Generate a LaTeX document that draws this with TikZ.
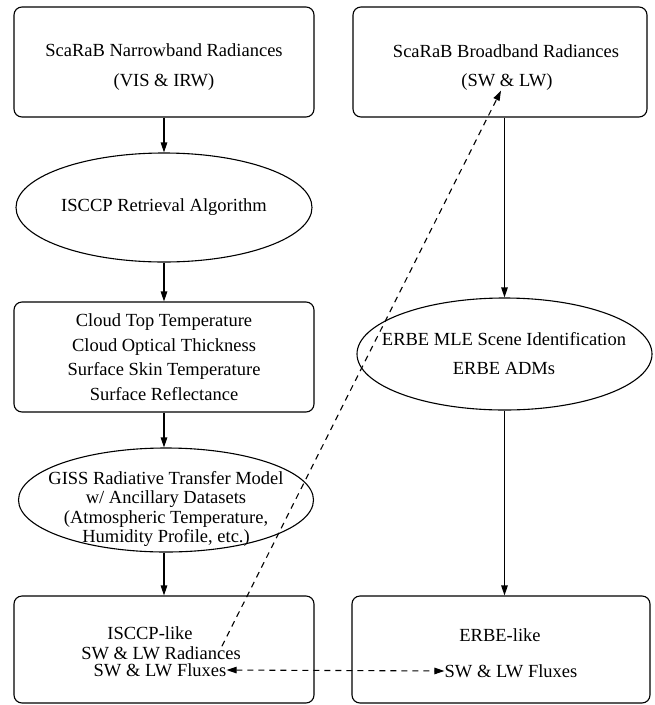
\documentclass[tikz,border=0pt]{standalone}
\usepackage{fontspec}
\setmainfont{Liberation Serif}
\usetikzlibrary{arrows.meta,shapes.geometric}

\begin{document}
\begin{tikzpicture}[x=1pt,y=-1pt,
		every node/.style = {font=\fontsize{18.5}{19.5}\selectfont},
		box/.style = {draw, rounded corners=8pt, line width=1.1pt, minimum width=300pt, minimum height=110pt, align=center},
		oval/.style = {draw, ellipse, line width=1.1pt, minimum width=296pt, inner sep=0pt, align=center},
		txt/.style = {inner sep=0pt, align=center},
		flow/.style = {line width=1.1pt, -{Triangle[length=10pt,width=6.5pt]}},
		link/.style = {line width=1.1pt, dash pattern=on 6pt off 5pt}]
	\useasboundingbox (0,0) rectangle (655,705);

	% left column: narrowband radiances down to ISCCP-like fluxes
	\node[box] (nb) at (164,62) {};
	\node[txt] (nbname) at (164,50) {ScaRaB Narrowband Radiances};
	\node[txt] (nbband) at (164,82) {(VIS \& IRW)};
	\node[oval, minimum height=109pt] (isccp) at (164,207.5) {ISCCP Retrieval Algorithm};
	\node[box] (cloud) at (164,357) {Cloud Top Temperature\\[5pt]Cloud Optical Thickness\\[5pt]Surface Skin Temperature\\[5pt]Surface Reflectance};
	\node[oval, minimum width=295pt, minimum height=104pt] (giss) at (166,500) {};
	\node[txt] (gisstext) at (166,509) {GISS Radiative Transfer Model\\w/ Ancillary Datasets\\(Atmospheric Temperature,\\Humidity Profile, etc.)};
	\node[box, minimum height=107pt] (isl) at (164,649.5) {};
	\node[txt] (islname) at (150,633) {ISCCP-like};
	\node[txt] (islrad) at (161,653) {SW \& LW Radiances};
	\node[txt] (islflux) at (160,670) {SW \& LW Fluxes};

	% right column: broadband radiances down to ERBE-like fluxes
	\node[box, minimum width=294pt] (bb) at (500,62) {};
	\node[txt] (bbname) at (506,51) {ScaRaB Broadband Radiances};
	\node[txt] (bbband) at (507,82) {(SW \& LW)};
	\node[oval, minimum width=295pt, minimum height=112pt] (erbe) at (504.5,354) {};
	\node[txt] (erbeid) at (504,339) {ERBE MLE Scene Identification};
	\node[txt] (erbeadm) at (504,368) {ERBE ADMs};
	\node[box, minimum width=298pt, minimum height=107pt] (erl) at (501,649.5) {};
	\node[txt] (erlname) at (500,635) {ERBE-like};
	\node[txt] (erlflux) at (511,671) {SW \& LW Fluxes};

	\draw[flow] (nb) -- (isccp);
	\draw[flow] (isccp) -- (cloud);
	\draw[flow] (cloud.south) -- (cloud.south |- giss.north);
	\draw[flow] (giss.south -| isl.north) -- (isl.north);
	\draw[flow] (bb.south -| erbe.north) -- (erbe.north);
	\draw[flow] (erbe.south) -- (erbe.south |- erl.north);

	% comparison links
	\draw[link, -{Triangle[length=10pt,width=6.5pt]}] ([xshift=-19pt]islrad.north east) -- ([xshift=-6pt]bbband.south);
	\draw[link, {Triangle[length=10pt,width=6.5pt]}-{Triangle[length=10pt,width=6.5pt]}] (islflux.east) -- (erlflux.west);
\end{tikzpicture}
\end{document}
